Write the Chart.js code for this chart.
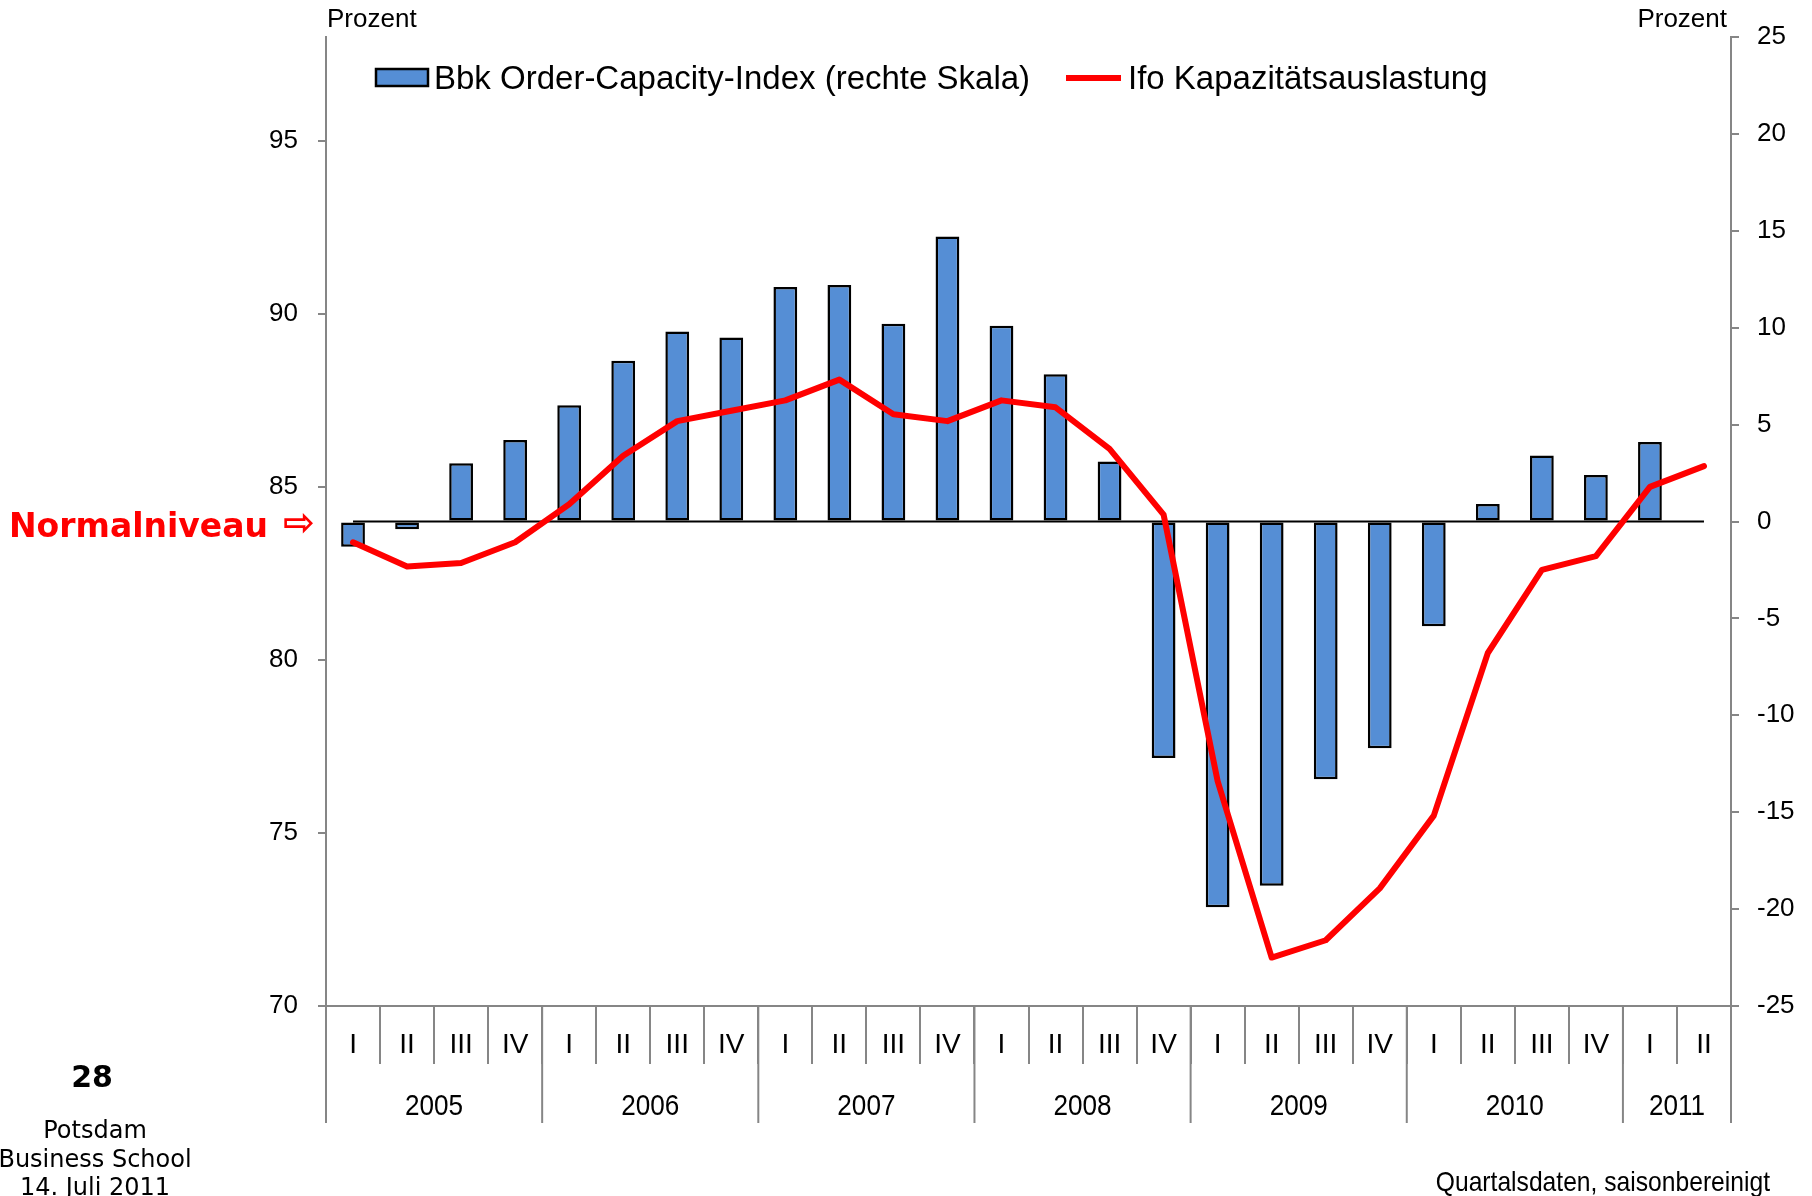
<!DOCTYPE html>
<html>
<head>
<meta charset="utf-8">
<script src="https://cdn.jsdelivr.net/npm/chart.js@4.4.1/dist/chart.umd.min.js"></script>
<style>
    html, body { margin: 0; padding: 0; background: #fff; }
    #wrap      { width: 1812px; height: 1196px; }
</style>
</head>
<body>
<div id="wrap"><canvas id="chart" width="1812" height="1196"></canvas></div>
<script>
// quarters 2005 I ... 2011 II, each year starts with 'I'
const quarters      = ['I', 'II', 'III', 'IV', 'I', 'II', 'III', 'IV', 'I', 'II', 'III', 'IV', 'I', 'II', 'III', 'IV',
                       'I', 'II', 'III', 'IV', 'I', 'II', 'III', 'IV', 'I', 'II'];
const years         = ['2005', '2006', '2007', '2008', '2009', '2010', '2011'];
// Bbk Order-Capacity-Index, right scale
const orderCapacity = [-1.3, -0.4, 3.0, 4.2, 6.0, 8.3, 9.8, 9.5, 12.1, 12.2, 10.2, 14.7, 10.1, 7.6, 3.1, -12.2,
                       -19.9, -18.8, -13.3, -11.7, -5.4, 0.9, 3.4, 2.4, 4.1, null];
// Ifo Kapazitaetsauslastung, left scale
const ifoUtilisation = [83.4, 82.7, 82.8, 83.4, 84.5, 85.9, 86.9, 87.2, 87.5, 88.1, 87.1, 86.9, 87.5, 87.3, 86.1, 84.2,
                        76.5, 71.4, 71.9, 73.4, 75.5, 80.2, 82.6, 83.0, 85.0, 85.6];
const leftTicks     = [70, 75, 80, 85, 90, 95];
const rightTicks    = [-25, -20, -15, -10, -5, 0, 5, 10, 15, 20, 25];

const GREY  = '#868686';
const BLUE  = '#558ED5';
const RED   = '#FF0000';
const ARIAL = '"Liberation Sans", Arial, sans-serif';
const VERD  = '"DejaVu Sans", Verdana, sans-serif';

const AREA  = {left: 326, right: 1731, top: 37, bottom: 1006};

// text squeezed horizontally, like the narrow axis font of the original
function narrowText(ctx, text, x, y, squeeze) {
    ctx.save();
    ctx.translate(x, y);
    ctx.scale(squeeze, 1);
    ctx.fillText(text, 0, 0);
    ctx.restore();
}

// black reference line at 0 of the right scale
const zeroLine = {
    id: 'zeroLine',
    beforeDatasetsDraw(chart) {
        const {ctx, scales: {x, y1}} = chart;
        const y = y1.getPixelForValue(0);
        ctx.save();
        ctx.strokeStyle = '#000';
        ctx.lineWidth   = 2;
        ctx.beginPath();
        ctx.moveTo(x.getPixelForValue(0), y);
        ctx.lineTo(x.getPixelForValue(quarters.length - 1), y);
        ctx.stroke();
        ctx.restore();
    }
};

// second row of the category axis: years with long separators
const yearAxis = {
    id: 'yearAxis',
    afterDraw(chart) {
        const {ctx, scales: {x}} = chart;
        const half   = (x.getPixelForValue(1) - x.getPixelForValue(0)) / 2;
        const starts = [];
        quarters.forEach((q, i) => q === 'I' && starts.push(i));
        starts.push(quarters.length);

        ctx.save();
        ctx.strokeStyle  = GREY;
        ctx.lineWidth    = 2;
        ctx.fillStyle    = '#000';
        ctx.font         = '30px ' + ARIAL;
        ctx.textAlign    = 'center';
        ctx.textBaseline = 'middle';
        starts.forEach((s, n) => {
            const left = x.getPixelForValue(s) - half;
            ctx.beginPath();
            ctx.moveTo(left, x.top);
            ctx.lineTo(left, x.top + 117);
            ctx.stroke();
            if (n < years.length) {
                const right = x.getPixelForValue(starts[n + 1]) - half;
                narrowText(ctx, years[n], (left + right) / 2, x.top + 101, 0.87);
            }
        });
        ctx.restore();
    }
};

// legend, unit labels and the slide texts around the chart
const decorations = {
    id: 'decorations',
    afterDraw(chart) {
        const {ctx, scales: {y1}} = chart;
        const [line, bars] = [chart.data.datasets[0], chart.data.datasets[1]];
        const zero = y1.getPixelForValue(0);
        ctx.save();
        ctx.fillStyle    = '#000';
        ctx.textBaseline = 'alphabetic';

        // legend
        ctx.font        = '33px ' + ARIAL;
        ctx.fillStyle   = bars.backgroundColor;
        ctx.fillRect(376, 69, 52, 17);
        ctx.strokeStyle = bars.borderColor;
        ctx.lineWidth   = 2.5;
        ctx.strokeRect(376, 69, 52, 17);
        ctx.fillStyle   = '#000';
        ctx.textAlign   = 'left';
        ctx.fillText(bars.label, 434, 89);
        ctx.strokeStyle = line.borderColor;
        ctx.lineWidth   = 6;
        ctx.beginPath();
        ctx.moveTo(1066, 78);
        ctx.lineTo(1121, 78);
        ctx.stroke();
        ctx.fillText(line.label, 1128, 89);

        // units
        ctx.font      = '26px ' + ARIAL;
        ctx.fillText('Prozent', 327, 27);
        ctx.textAlign = 'right';
        ctx.fillText('Prozent', 1727, 27);
        ctx.font      = '28px ' + ARIAL;
        narrowText(ctx, 'Quartalsdaten, saisonbereinigt', 1770, 1191, 0.88);

        // normal level marker at zero of the right scale
        ctx.textAlign = 'left';
        ctx.fillStyle = RED;
        ctx.font      = 'bold 33px ' + VERD;
        ctx.fillText('Normalniveau', 9, zero + 15);
        ctx.font      = 'bold 38px ' + VERD;
        ctx.fillText('\u21E8', 283, zero + 13);

        // slide footer
        ctx.fillStyle = '#000';
        ctx.textAlign = 'center';
        ctx.font      = 'bold 30px ' + VERD;
        ctx.fillText('28', 92, 1087);
        ctx.font      = '24px ' + VERD;
        ctx.fillText('Potsdam', 95, 1138);
        ctx.fillText('Business School', 95, 1167);
        ctx.fillText('14. Juli 2011', 95, 1195);
        ctx.restore();
    }
};

new Chart(document.getElementById('chart'), {
    data: {
        labels  : quarters,
        datasets: [
            {
                type           : 'line',
                label          : 'Ifo Kapazitätsauslastung',
                data           : ifoUtilisation,
                yAxisID        : 'y',
                borderColor    : RED,
                borderWidth    : 6,
                borderCapStyle : 'round',
                borderJoinStyle: 'round',
                pointRadius    : 0,
                tension        : 0,
                order          : 0
            },
            {
                type              : 'bar',
                label             : 'Bbk Order-Capacity-Index (rechte Skala)',
                data              : orderCapacity,
                yAxisID           : 'y1',
                backgroundColor   : BLUE,
                borderColor       : '#000',
                borderWidth       : 2.5,
                borderSkipped     : false,
                barPercentage     : 0.44,
                categoryPercentage: 1,
                order             : 1
            }
        ]
    },
    options: {
        responsive: false,
        animation : false,
        devicePixelRatio: 1,
        layout    : {padding: {top: AREA.top, left: 0, right: 0, bottom: 0}},
        plugins   : {legend: {display: false}, tooltip: {enabled: false}},
        scales    : {
            x: {
                type    : 'category',
                offset  : true,
                grid    : {offset: true, drawOnChartArea: false, tickLength: 58, color: GREY, lineWidth: 2},
                border  : {color: GREY, width: 2},
                ticks   : {font: {size: 28, family: ARIAL}, color: '#000', padding: -36, maxRotation: 0, autoSkip: false},
                afterFit: scale => { scale.height = 1196 - AREA.bottom; }
            },
            y: {
                position: 'left',
                min     : 70,
                max     : 98,
                grid    : {drawOnChartArea: false, tickLength: 8, color: GREY, lineWidth: 2},
                border  : {color: GREY, width: 2},
                ticks   : {font: {size: 26, family: ARIAL}, color: '#000', padding: 20},
                afterBuildTicks: scale => { scale.ticks = leftTicks.map(v => ({value: v})); },
                afterFit: scale => { scale.width = AREA.left; }
            },
            y1: {
                position: 'right',
                min     : -25,
                max     : 25,
                grid    : {drawOnChartArea: false, tickLength: 8, color: GREY, lineWidth: 2},
                border  : {color: GREY, width: 2},
                ticks   : {font: {size: 26, family: ARIAL}, color: '#000', padding: 18},
                afterBuildTicks: scale => { scale.ticks = rightTicks.map(v => ({value: v})); },
                afterFit: scale => { scale.width = 1812 - AREA.right; }
            }
        }
    },
    plugins: [zeroLine, yearAxis, decorations]
});
</script>
</body>
</html>
